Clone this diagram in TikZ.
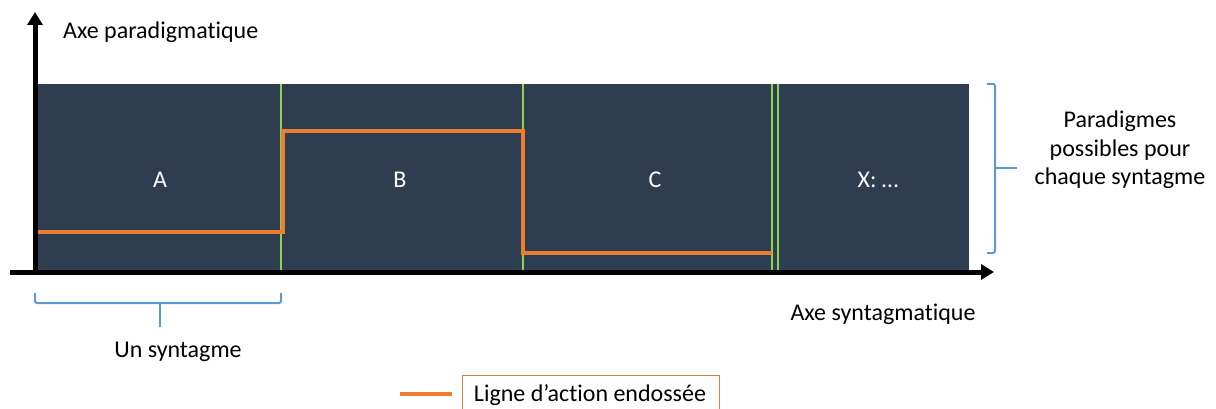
\documentclass[tikz,border=0pt]{standalone}
\usepackage{fontspec}
\setmainfont[Ligatures=NoCommon]{Carlito}
\usetikzlibrary{arrows.meta}
\definecolor{navy}{HTML}{2E3E50}
\definecolor{orng}{HTML}{ED7D31}
\definecolor{grn}{HTML}{92D050}
\definecolor{brc}{HTML}{5B9BD5}
\tikzset{
  axis/.style={line width=5pt,-{Triangle[length=13pt,width=15pt]}},
  action/.style={orng,line width=4pt},
  sep/.style={grn,line width=2.5pt},
  bracket/.style={brc,line width=2pt,rounded corners=2pt},
  lbl/.style={font=\fontsize{24}{28.5}\selectfont,text=black,inner sep=0pt},
  cell/.style={font=\fontsize{24}{28.5}\selectfont,text=white,inner sep=0pt},
}
\begin{document}
\begin{tikzpicture}[x=1pt,y=-1pt]
\useasboundingbox (0,0) rectangle (1216,409);
\fill[navy] (35,84) rectangle (969,270);
% separators
\draw[sep] (281,84) -- (281,270);
\draw[sep] (523,84) -- (523,270);
\draw[sep] (772,84) -- (772,270);
\draw[sep] (778,84) -- (778,270);
% action line
\coordinate (a0) at (35,232);
\coordinate (a1) at (283,232);
\coordinate (a2) at (283,131);
\coordinate (a3) at (523,131);
\coordinate (a4) at (523,253);
\coordinate (a5) at (772,253);
\draw[action] (a0) -- (a1) -- (a2) -- (a3) -- (a4) -- (a5);
% axes
\coordinate (o) at (35,274);
\coordinate (ytop) at (35,12);
\coordinate (xl) at (10,272);
\coordinate (xr) at (994,272);
\draw[axis] (o) -- (ytop);
\draw[axis] (xl) -- (xr);
% cell labels
\node[cell] (A) at (160,180) {A};
\node[cell] (B) at (400,180) {B};
\node[cell] (C) at (655,180) {C};
\node[cell] (X) at (878,180) {X: …};
% axis labels
\node[lbl,anchor=west] (yl) at (63,32) {Axe paradigmatique};
\node[lbl] (xlab) at (883,314) {Axe syntagmatique};
% bottom bracket
\coordinate (b1) at (35,293);
\coordinate (b2) at (281,293);
\coordinate (bm) at (160,303);
\coordinate (bt) at (160,327);
\draw[bracket] (b1) -- (35,303) -- (281,303) -- (b2);
\draw[brc,line width=2pt] (bm) -- (bt);
\node[lbl] (un) at (178,352) {Un syntagme};
% right bracket
\coordinate (r1) at (987,84);
\coordinate (r2) at (987,253);
\coordinate (rm) at (995,168);
\coordinate (rt) at (1017,168);
\draw[bracket] (r1) -- (995,84) -- (995,253) -- (r2);
\draw[brc,line width=2pt] (rm) -- (rt);
\node[lbl,align=center] (par) at (1120,150) {Paradigmes\\possibles pour\\chaque syntagme};
% legend
\coordinate (l1) at (400,394);
\coordinate (l2) at (452,394);
\draw[action] (l1) -- (l2);
\draw[orng!70!brown,line width=0.8pt] (462,412) -- (462,375) -- (719,375) -- (719,412);
\node[lbl] (leg) at (590,395) {Ligne d’action endossée};
\end{tikzpicture}
\end{document}
